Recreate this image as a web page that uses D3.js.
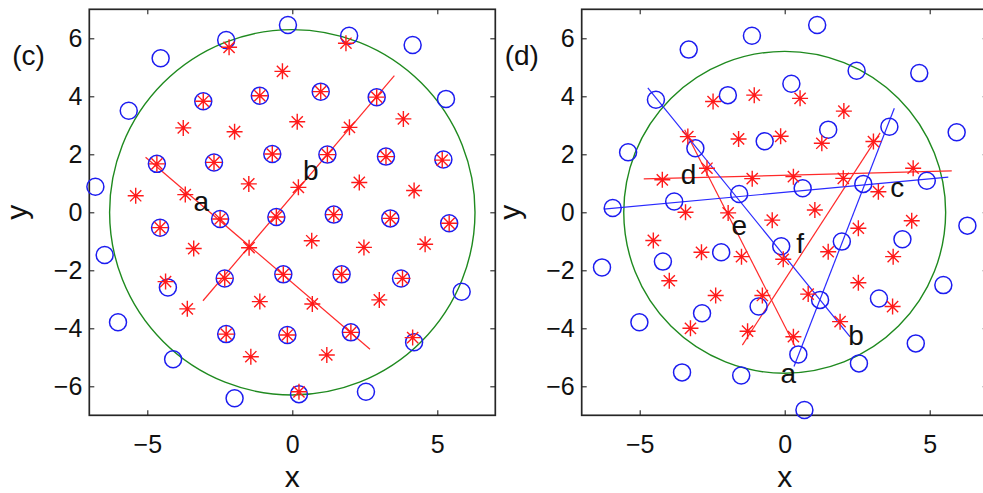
<!DOCTYPE html>
<html>
<head>
<meta charset="utf-8">
<script src="https://cdn.jsdelivr.net/npm/d3@7"></script>
<style>
body { margin: 0; background: #fff; }
svg text { font-family: "Liberation Sans", Arial, sans-serif; fill: #111; }
</style>
</head>
<body>
<script>
// tick values shared by both panels
var xTicks = [-5, 0, 5];
var yTicks = [-6, -4, -2, 0, 2, 4, 6];

// panel (c): blue circles, red asterisks
var cBlue = [
    [-0.15, 6.46], [-2.28, 5.94], [1.96, 6.09], [-4.54, 5.31], [4.15, 5.77], [-5.64, 3.50], [5.30, 3.91],
    [-6.79, 0.88], [-6.47, -1.47], [-6.01, -3.79], [5.84, -2.74], [-4.11, -5.07], [-1.99, -6.41],
    [2.54, -6.19], [0.23, -6.27], [4.20, -4.48],
    [-3.07, 3.83], [-1.12, 4.02], [0.98, 4.16], [2.91, 3.97],
    [-4.67, 1.67], [-2.70, 1.72], [-0.69, 2.01], [1.21, 1.99], [3.23, 1.92], [5.21, 1.82],
    [-4.56, -0.53], [-2.49, -0.23], [-0.55, -0.16], [1.43, -0.08], [3.38, -0.21], [5.41, -0.38],
    [-4.29, -2.59], [-2.33, -2.28], [-0.31, -2.14], [1.70, -2.14], [3.75, -2.28],
    [-2.28, -4.20], [-0.17, -4.23], [2.02, -4.14]
];
var cRed = [
    [-2.18, 5.69], [1.85, 5.83], [-0.34, 4.86],
    [-3.07, 3.83], [-1.12, 4.02], [0.98, 4.16], [2.91, 3.97],
    [-3.76, 2.91], [-1.99, 2.78], [0.17, 3.12], [1.97, 2.93], [3.83, 3.22],
    [-4.67, 1.67], [-2.70, 1.72], [-0.69, 2.01], [1.21, 1.99], [3.23, 1.92], [5.17, 1.80],
    [-5.40, 0.57], [-3.69, 0.61], [-1.50, 0.98], [0.21, 0.86], [2.31, 1.03], [4.20, 0.75],
    [-4.56, -0.53], [-2.49, -0.23], [-0.55, -0.16], [1.43, -0.08], [3.38, -0.21], [5.41, -0.38],
    [-3.40, -1.25], [-1.49, -1.22], [0.67, -0.98], [2.47, -1.21], [4.58, -1.10],
    [-4.37, -2.39], [-2.33, -2.28], [-0.31, -2.14], [1.70, -2.14], [3.80, -2.28],
    [-3.62, -3.33], [-1.12, -3.08], [0.69, -3.16], [3.00, -3.02],
    [-2.28, -4.20], [-0.17, -4.23], [2.02, -4.14], [4.15, -4.32],
    [-1.43, -4.98], [1.19, -4.92], [0.23, -6.19]
];
var cRedLines = [
    [[-5.06, 1.90], [2.68, -4.72]],
    [[-3.08, -3.05], [3.52, 4.71]]
];
var cBlueLines = [];
var cLabels = [
    { t: "a", x: -3.14, y: 0.06 },
    { t: "b", x: 0.64, y: 1.11 }
];
var cRadius = 6.3;

// panel (d)
var dBlue = [
    [-3.31, 5.61], [-1.13, 6.09], [1.12, 6.46],
    [-4.44, 3.88], [-1.96, 4.04], [0.23, 4.43], [2.48, 4.88], [4.64, 4.80],
    [-5.40, 2.07], [-3.08, 2.21], [-0.69, 2.45], [1.50, 2.85], [3.61, 2.95], [5.93, 2.76],
    [-5.93, 0.15], [-3.81, 0.37], [-1.57, 0.63], [0.62, 0.83], [2.71, 0.98], [4.90, 1.09], [6.30, -0.46],
    [-6.30, -1.90], [-4.20, -1.70], [-2.19, -1.38], [-0.12, -1.17], [1.97, -1.01], [4.06, -0.93],
    [-5.01, -3.79], [-2.85, -3.48], [-0.90, -3.25], [1.22, -3.02], [3.25, -2.97], [5.47, -2.51],
    [-3.54, -5.52], [-1.50, -5.63], [0.47, -4.90], [2.56, -5.21], [4.52, -4.52], [0.68, -6.82]
];
var dRed = [
    [-2.47, 3.82], [-1.05, 4.04], [0.53, 3.93], [2.04, 3.49],
    [-3.34, 2.61], [-1.59, 2.53], [-0.14, 2.62], [1.28, 2.38], [3.06, 2.44],
    [-4.22, 1.12], [-2.68, 1.52], [-1.12, 1.16], [0.30, 1.23], [2.02, 1.17], [4.43, 1.52], [3.23, 0.71],
    [-3.42, 0.00], [-1.95, -0.02], [1.04, 0.08], [-0.43, -0.27], [2.54, -0.55], [4.38, -0.29],
    [-4.53, -0.97], [-2.87, -1.38], [-1.49, -1.53], [-0.05, -1.62], [1.50, -1.36], [3.74, -1.53],
    [-3.98, -2.36], [-2.38, -2.87], [-0.77, -2.87], [0.81, -2.82], [2.54, -2.43], [3.72, -3.25],
    [-3.25, -4.00], [-1.28, -4.10], [0.30, -4.29], [1.91, -3.77]
];
var dRedLines = [
    [[-4.86, 1.15], [5.76, 1.43]],
    [[-3.45, 2.85], [0.36, -4.63]],
    [[-1.46, -4.58], [3.29, 2.74]]
];
var dBlueLines = [
    [[-6.24, 0.11], [5.64, 1.21]],
    [[-4.72, 4.29], [2.25, -4.29]],
    [[0.32, -5.32], [3.78, 3.59]]
];
var dLabels = [
    { t: "a", x: 0.12, y: -5.90 },
    { t: "b", x: 2.46, y: -4.58 },
    { t: "c", x: 3.88, y: 0.54 },
    { t: "d", x: -3.32, y: 0.97 },
    { t: "e", x: -1.57, y: -0.78 },
    { t: "f", x: 0.53, y: -1.41 }
];
var dRadius = 5.55;

var width = 983,
    height = 493,
    side = 406;

var svg = d3.select("body").append("svg")
    .attr("width", width)
    .attr("height", height);

// MATLAB style '*' marker
function star(s) {
    var d = s * 0.7;
    return "M" + (-s) + ",0L" + s + ",0M0," + (-s) + "L0," + s +
        "M" + (-d) + "," + (-d) + "L" + d + "," + d +
        "M" + (-d) + "," + d + "L" + d + "," + (-d);
}

function panel(left, top, name, blue, red, redLines, blueLines, labels, radius) {
    var x = d3.scaleLinear().domain([-7, 7]).range([left, left + side]);
    var y = d3.scaleLinear().domain([-7, 7]).range([top + side, top]);
    var g = svg.append("g");

    function styleAxis(a) {
        a.attr("font-size", 25).attr("font-family", null);
        a.select(".domain").remove();
        a.selectAll("line").attr("stroke", "#222").attr("stroke-width", 1.1);
        a.selectAll("text").attr("fill", "#111");
    }

    g.append("g").attr("transform", "translate(0," + y(-7) + ")")
        .call(d3.axisBottom(x).tickValues(xTicks).tickSize(-5).tickPadding(20))
        .call(styleAxis);
    g.append("g").attr("transform", "translate(0," + y(7) + ")")
        .call(d3.axisTop(x).tickValues(xTicks).tickSize(-5).tickFormat(""))
        .call(styleAxis);
    g.append("g").attr("transform", "translate(" + x(-7) + ",0)")
        .call(d3.axisLeft(y).tickValues(yTicks).tickSize(-5).tickPadding(7))
        .call(styleAxis);
    g.append("g").attr("transform", "translate(" + x(7) + ",0)")
        .call(d3.axisRight(y).tickValues(yTicks).tickSize(-5).tickFormat(""))
        .call(styleAxis);

    g.append("rect")
        .attr("x", x(-7)).attr("y", y(7))
        .attr("width", x(7) - x(-7)).attr("height", y(-7) - y(7))
        .attr("fill", "none").attr("stroke", "#262626").attr("stroke-width", 1.7);

    g.append("circle")
        .attr("cx", x(0)).attr("cy", y(0))
        .attr("r", x(radius) - x(0))
        .attr("fill", "none").attr("stroke", "#1f8a1f").attr("stroke-width", 1.4);

    var line = d3.line().x(function(d) { return x(d[0]); }).y(function(d) { return y(d[1]); });

    g.selectAll("path.rl").data(redLines).enter().append("path")
        .attr("class", "rl").attr("d", line)
        .attr("fill", "none").attr("stroke", "#ff2a2a").attr("stroke-width", 1.2);
    g.selectAll("path.bl").data(blueLines).enter().append("path")
        .attr("class", "bl").attr("d", line)
        .attr("fill", "none").attr("stroke", "#2a2aff").attr("stroke-width", 1.2);

    g.selectAll("circle.pt").data(blue).enter().append("circle")
        .attr("class", "pt")
        .attr("cx", function(d) { return x(d[0]); })
        .attr("cy", function(d) { return y(d[1]); })
        .attr("r", 8.5)
        .attr("fill", "none").attr("stroke", "#1c1cf0").attr("stroke-width", 1.5);

    g.selectAll("path.st").data(red).enter().append("path")
        .attr("class", "st")
        .attr("transform", function(d) { return "translate(" + x(d[0]) + "," + y(d[1]) + ")"; })
        .attr("d", star(8))
        .attr("fill", "none").attr("stroke", "#ff1a1a").attr("stroke-width", 1.4);

    g.selectAll("text.lab").data(labels).enter().append("text")
        .attr("class", "lab")
        .attr("x", function(d) { return x(d.x); })
        .attr("y", function(d) { return y(d.y); })
        .attr("text-anchor", "middle")
        .attr("font-size", 28)
        .text(function(d) { return d.t; });

    g.append("text")
        .attr("x", x(0)).attr("y", 487)
        .attr("text-anchor", "middle").attr("font-size", 30)
        .text("x");
    g.append("text")
        .attr("transform", "translate(" + (left - 62) + "," + y(0) + ") rotate(-90)")
        .attr("text-anchor", "middle").attr("font-size", 30)
        .text("y");
    g.append("text")
        .attr("x", left - 77).attr("y", 65)
        .attr("font-size", 28)
        .text(name);
}

panel(89.3, 9.3, "(c)", cBlue, cRed, cRedLines, cBlueLines, cLabels, cRadius);
panel(581.7, 9.3, "(d)", dBlue, dRed, dRedLines, dBlueLines, dLabels, dRadius);
</script>
</body>
</html>
